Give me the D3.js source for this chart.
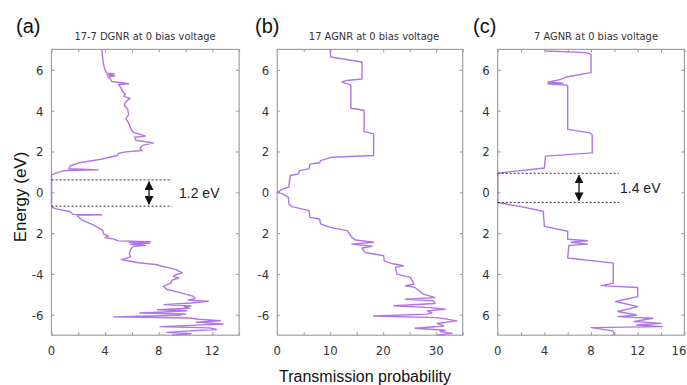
<!DOCTYPE html>
<html lang="en">
<head>
<meta charset="utf-8">
<title>Transmission spectra</title>
<script src="https://cdn.jsdelivr.net/npm/d3@7"></script>
<style>
body { margin:0; background:#fff; }
svg { display:block; font-family: Arial, "Liberation Sans", sans-serif; }
.frame { fill:none; stroke:#a0a0a0; stroke-width:1.2; }
.tick line { stroke:#999; }
.title { font-family: "Liberation Sans Narrow", "DejaVu Sans Condensed", "Roboto Condensed", sans-serif; fill:#333; }
.lbl { font-family: "Liberation Sans Narrow", "DejaVu Sans Condensed", sans-serif; fill:#333; font-size:13px; }
.curve { fill:none; stroke:#b174e6; stroke-width:1.4; stroke-linejoin:round; }
.gap { stroke:#222; stroke-width:0.9; stroke-dasharray:2,2; }
</style>
</head>
<body>
<svg width="687" height="385"></svg>
<script>
// energy ticks shared by all panels (labels as they appear in the figure)
var energyTicks = [6, 4, 2, 0, -2, -4, -6];
var yLabelsA = ["6", "4", "2", "0", "2", "-4", "-6"];
var yLabelsB = ["6", "4", "2", "0", "2", "-4", "-6"];
var yLabelsC = ["6", "4", "2", "0", "2", "4", "6"];

// transmission axes
var xTicksA = [0, 2, 4, 6, 8, 10, 12, 14], xLabelsA = [0, 4, 8, 12];
var xTicksB = [0, 5, 10, 15, 20, 25, 30, 35], xLabelsB = [0, 10, 20, 30];
var xTicksC = [0, 2, 4, 6, 8, 10, 12, 14, 16], xLabelsC = [0, 4, 8, 12, 16];

// [energy eV, transmission]
var dgnr = [
  [7.0,3.75],[6.4,3.85],[6.08,3.95],[5.85,4.1],[5.8,4.7],[5.76,4.15],[5.7,4.7],[5.65,4.2],
  [5.55,4.4],[5.43,4.5],[5.32,5.75],[5.28,5.0],[5.15,5.15],[4.95,5.3],[4.8,5.5],[4.7,5.4],
  [4.6,5.85],[4.4,5.5],[4.25,5.45],[4.05,5.7],[3.8,5.75],[3.6,5.55],[3.4,5.75],[3.15,5.9],
  [2.95,6.1],[2.75,7.0],[2.7,6.2],[2.55,6.3],[2.42,7.6],[2.3,6.8],[2.15,6.6],[2.05,6.75],
  [1.97,5.4],[1.9,5.0],[1.8,4.9],[1.62,3.7],[1.45,2.1],[1.3,1.4],[1.15,1.3],[1.1,3.5],
  [1.07,1.0],[1.0,0.6],[0.87,0.05],[0.8,0],[-0.72,0],[-0.8,0.3],[-0.95,1.4],[-1.08,1.6],
  [-1.1,3.75],[-1.13,1.9],[-1.35,2.25],[-1.6,3.1],[-1.85,3.8],[-2.05,3.9],[-2.15,4.25],
  [-2.22,4.0],[-2.28,4.6],[-2.38,5.0],[-2.42,7.4],[-2.46,5.8],[-2.5,7.3],[-2.55,5.9],
  [-2.6,7.0],[-2.65,6.1],[-2.8,5.9],[-3.0,5.8],[-3.15,5.9],[-3.25,5.5],[-3.3,5.2],
  [-3.35,5.7],[-3.45,6.5],[-3.55,7.9],[-3.6,8.1],[-3.7,8.8],[-3.8,9.35],[-3.95,9.75],
  [-4.05,9.2],[-4.12,9.1],[-4.2,9.5],[-4.3,9.0],[-4.45,8.9],[-4.6,8.35],[-4.75,8.6],
  [-4.95,9.8],[-5.1,10.6],[-5.2,10.7],[-5.28,10.2],[-5.34,11.7],[-5.42,10.4],[-5.5,8.4],
  [-5.56,10.4],[-5.6,9.9],[-5.68,10.3],[-5.75,7.9],[-5.8,10.1],[-5.86,8.5],[-5.91,6.6],
  [-5.96,10.0],[-6.02,9.5],[-6.1,4.6],[-6.16,10.3],[-6.22,11.0],[-6.29,12.6],[-6.36,10.8],
  [-6.45,12.8],[-6.52,10.5],[-6.58,8.1],[-6.64,11.8],[-6.72,12.3],[-6.8,10.0],[-6.86,8.6],
  [-6.93,10.4],[-7.0,9.0]
];
var agnr17 = [
  [7.0,10.0],[6.63,10.1],[6.38,16.0],[5.55,16.0],[5.48,13.1],[5.40,12.2],[5.30,13.5],
  [5.24,13.9],[4.12,13.9],[4.02,16.4],[2.97,16.4],[2.86,18.2],[1.80,18.2],[1.72,10.3],
  [1.55,8.2],[1.45,8.0],[1.38,6.2],[1.15,6.0],[1.06,4.2],[0.90,4.0],[0.82,2.5],[0.52,2.3],
  [0.25,2.2],[0.16,1.0],[0,0],[-0.08,1.0],[-0.25,2.1],[-0.57,2.2],[-0.70,2.8],[-0.90,6.0],
  [-1.23,6.2],[-1.31,8.0],[-1.55,8.2],[-1.72,10.0],[-1.88,13.2],[-2.21,14.1],[-2.34,14.8],
  [-2.45,18.2],[-2.54,14.1],[-2.64,17.9],[-2.73,16.0],[-2.95,16.6],[-3.11,20.1],[-3.36,20.2],
  [-3.49,21.6],[-3.60,23.8],[-3.68,22.3],[-4.01,22.6],[-4.17,25.1],[-4.50,25.8],[-4.58,24.2],
  [-4.66,26.0],[-4.99,27.6],[-5.16,29.8],[-5.24,24.2],[-5.32,29.5],[-5.45,29.8],[-5.56,22.0],
  [-5.65,28.9],[-5.73,31.7],[-5.81,28.3],[-5.89,29.2],[-5.97,28.3],[-6.06,18.2],[-6.14,30.2],
  [-6.30,33.9],[-6.43,30.2],[-6.55,31.4],[-6.66,26.0],[-6.76,31.7],[-6.82,30.8],[-6.91,33.0],
  [-7.0,30.2]
];
var agnr7 = [
  [7.0,4.1],[6.92,4.15],[6.84,7.6],[6.76,8.0],[5.86,8.0],[5.65,5.9],[5.53,5.4],[5.40,4.3],
  [5.35,5.6],[5.32,4.3],[5.25,5.9],[5.20,6.0],[3.08,6.0],[2.91,7.9],[2.83,8.1],[1.93,8.1],
  [1.77,4.1],[1.19,4.0],[1.0,1.0],[0.93,0],[-0.50,0],[-0.6,0.9],[-0.69,1.9],[-0.93,3.9],
  [-1.67,4.0],[-1.91,6.0],[-2.30,6.0],[-2.37,7.7],[-2.45,6.3],[-2.54,7.7],[-2.60,6.1],
  [-3.22,6.0],[-3.47,9.9],[-4.45,9.9],[-4.57,8.9],[-4.66,12.0],[-5.11,12.0],[-5.35,10.1],
  [-5.60,12.0],[-5.84,10.3],[-6.01,11.9],[-6.09,10.3],[-6.17,13.3],[-6.33,11.7],[-6.42,14.0],
  [-6.50,11.9],[-6.58,14.1],[-6.63,8.0],[-6.79,9.9],[-7.0,10.0]
];

var svg = d3.select("svg");
var y = d3.scaleLinear().domain([7, -7]).range([49.4, 335.2]);

var panels = [
  {tag:"(a)", title:"17-7 DGNR at 0 bias voltage", data:dgnr, xmax:14, range:[51.5, 239.1],
   ticks:xTicksA, labels:xLabelsA, ylab:yLabelsA, tagX:16, titleX:145,
   gap:[0.61, -0.68], gapEnd:172, arrowX:149, gapText:"1.2 eV", gapTextX:179},
  {tag:"(b)", title:"17 AGNR at 0 bias voltage", data:agnr17, xmax:35, range:[277.2, 462.7],
   ticks:xTicksB, labels:xLabelsB, ylab:yLabelsB, tagX:255, titleX:374},
  {tag:"(c)", title:"7 AGNR at 0 bias voltage", data:agnr7, xmax:16, range:[497.7, 684.4],
   ticks:xTicksC, labels:xLabelsC, ylab:yLabelsC, tagX:473, titleX:596,
   gap:[0.93, -0.5], gapEnd:619, arrowX:579, gapText:"1.4 eV", gapTextX:620}
];

var defs = svg.append("defs");
defs.append("marker").attr("id", "head")
  .attr("viewBox", "0 0 10 10").attr("refX", 9).attr("refY", 5)
  .attr("markerWidth", 9).attr("markerHeight", 9).attr("markerUnits", "userSpaceOnUse")
  .attr("orient", "auto-start-reverse")
  .append("path").attr("d", "M0,0L10,5L0,10Z").attr("fill", "#111");

panels.forEach(function(p) {
  var x = d3.scaleLinear().domain([0, p.xmax]).range(p.range);
  var g = svg.append("g");
  var x0 = p.range[0], x1 = p.range[1], y0 = y(7), y1 = y(-7);

  // ticks on all four sides, pointing inward
  g.append("g").attr("transform", "translate(0," + y1 + ")")
    .call(d3.axisBottom(x).tickValues(p.ticks).tickSizeInner(-3).tickSizeOuter(0).tickFormat(""))
    .call(function(s) { s.select(".domain").remove(); });
  g.append("g").attr("transform", "translate(0," + y0 + ")")
    .call(d3.axisTop(x).tickValues(p.ticks).tickSizeInner(-3).tickSizeOuter(0).tickFormat(""))
    .call(function(s) { s.select(".domain").remove(); });
  g.append("g").attr("transform", "translate(" + x0 + ",0)")
    .call(d3.axisLeft(y).tickValues(energyTicks).tickSizeInner(-3).tickSizeOuter(0).tickFormat(""))
    .call(function(s) { s.select(".domain").remove(); });
  g.append("g").attr("transform", "translate(" + x1 + ",0)")
    .call(d3.axisRight(y).tickValues(energyTicks).tickSizeInner(-3).tickSizeOuter(0).tickFormat(""))
    .call(function(s) { s.select(".domain").remove(); });

  // tick labels (the last one of panel c sits at the page edge, keep it inside)
  g.append("g").selectAll("text").data(p.labels).join("text")
    .attr("class", "lbl")
    .attr("x", function(d) { return Math.min(x(d), 679); }).attr("y", y1 + 20)
    .attr("text-anchor", "middle")
    .text(function(d) { return d; });
  g.append("g").selectAll("text").data(energyTicks).join("text")
    .attr("class", "lbl")
    .attr("x", x0 - 8).attr("y", function(d) { return y(d) + 5; })
    .attr("text-anchor", "end")
    .text(function(d, i) { return p.ylab[i]; });

  g.append("rect").attr("class", "frame")
    .attr("x", x0).attr("y", y0).attr("width", x1 - x0).attr("height", y1 - y0);

  g.append("path").datum(p.data).attr("class", "curve")
    .attr("d", d3.line().x(function(d) { return x(d[1]); }).y(function(d) { return y(d[0]); }));

  g.append("text").attr("class", "title").attr("x", p.titleX).attr("y", 40)
    .attr("text-anchor", "middle").style("font-size", "11px")
    .text(p.title);
  g.append("text").attr("x", p.tagX).attr("y", 33).style("font-size", "20px").style("fill", "#111")
    .text(p.tag);

  if (p.gap) {
    g.selectAll(".gap").data(p.gap).join("line").attr("class", "gap")
      .attr("x1", x0).attr("x2", p.gapEnd)
      .attr("y1", function(d) { return y(d); }).attr("y2", function(d) { return y(d); });
    g.append("line").attr("x1", p.arrowX).attr("x2", p.arrowX)
      .attr("y1", y(p.gap[0]) + 2).attr("y2", y(p.gap[1]) - 2)
      .attr("stroke", "#111").attr("stroke-width", 1.3)
      .attr("marker-start", "url(#head)").attr("marker-end", "url(#head)");
    g.append("text").attr("x", p.gapTextX).attr("y", (y(p.gap[0]) + y(p.gap[1])) / 2 + 5)
      .style("font-size", "14px").style("fill", "#222").text(p.gapText);
  }
});

svg.append("text").attr("transform", "translate(26,197) rotate(-90)")
  .attr("text-anchor", "middle").style("font-size", "17px").style("fill", "#111")
  .text("Energy (eV)");
svg.append("text").attr("x", 365).attr("y", 382)
  .attr("text-anchor", "middle").style("font-size", "16px").style("fill", "#111")
  .text("Transmission probability");
</script>
</body>
</html>
